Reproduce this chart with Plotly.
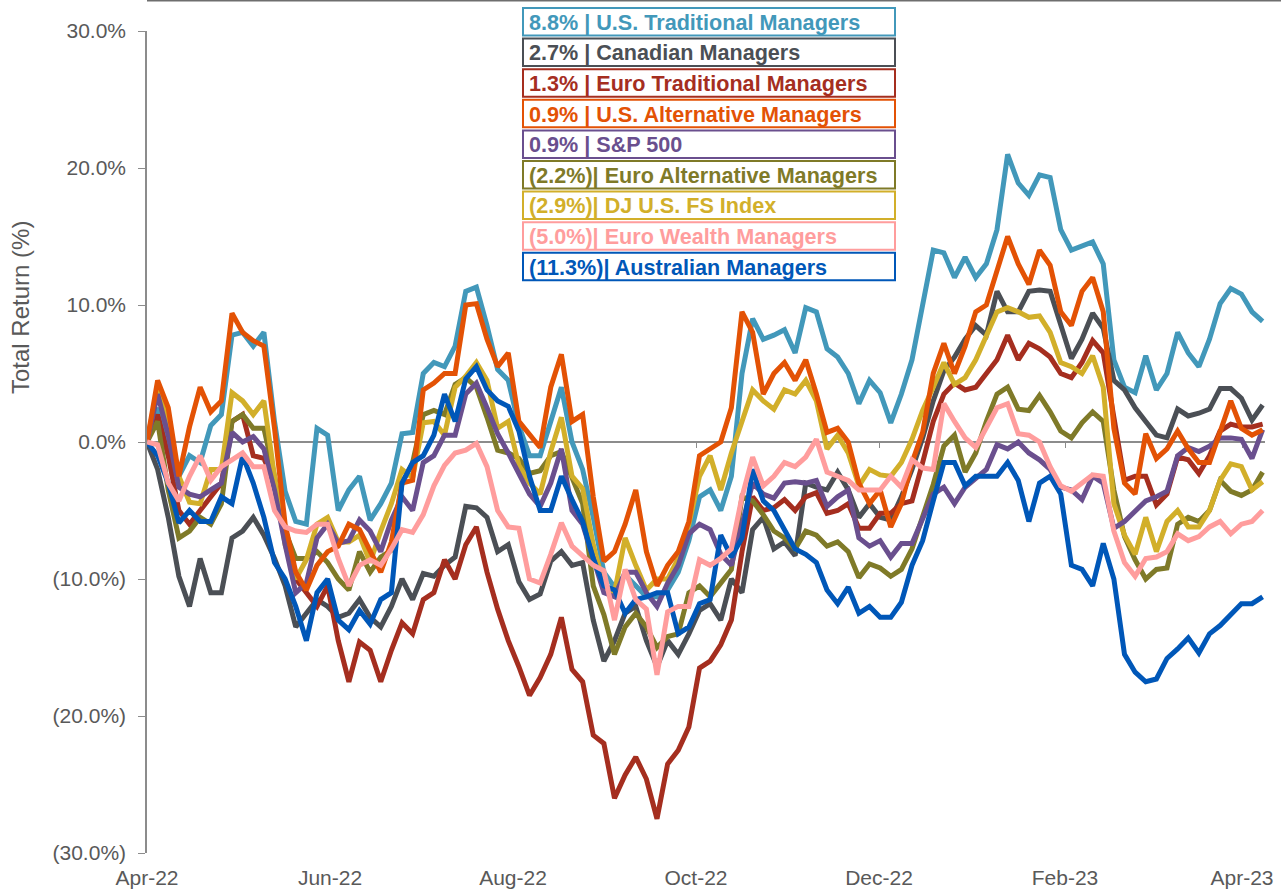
import pandas as pd
import plotly.graph_objects as go

# ---- data (total return %, sampled every ~3.5 days from Apr-2022) ----
dates = pd.date_range("2022-04-01", periods=106, freq="85h")

us_traditional = [0, 2.5, -1, -2.5, -1, -1.5, 1.2, 2, 7.8, 8,
                  7, 8, 1.5, -3.6, -5.8, -6, 1, 0.5, -5, -3.5,
                  -2.5, -5.7, -4.5, -3, 0.6, 0.7, 5, 5.8, 5.5, 7,
                  11, 11.3, 8.5, 5.3, 4.5, 1.2, -1, -1, 1.5, 4,
                  0, -2, -5.5, -9.5, -10.6, -9.7, -10.5, -11.3, -11.3, -10.8,
                  -9.5, -7.2, -4, -3.5, -5, -2.5, 5, 9, 7.5, 7.8,
                  8.2, 6.5, 9.8, 9.5, 6.8, 6.2, 5, 2.8, 4.5, 3.6,
                  1.4, 3.5, 6, 10, 14, 13.8, 12, 13.5, 12, 13,
                  15.5, 21, 18.9, 18, 19.5, 19.3, 15.5, 14, 14.3, 14.6,
                  13, 6, 4, 3.6, 6.3, 3.8, 5, 8, 6.5, 5.5,
                  7.5, 10.1, 11.2, 10.8, 9.5, 8.8]

canadian = [0, -2, -5.5, -9.8, -12, -8.5, -11, -11, -7, -6.5,
            -5.5, -6.8, -8.5, -10.5, -13.5, -12.5, -11.5, -12, -12.8, -12.5,
            -11.5, -12.8, -13.5, -12, -10, -11.5, -9.6, -9.8, -9, -8.4,
            -4.7, -4.8, -5.5, -8, -7.5, -10.2, -11.5, -11.1, -8.7, -8,
            -9, -8.8, -13, -16, -14.5, -12.5, -12, -14.5, -16.4, -14.5,
            -15.5, -14, -12.3, -11.8, -13, -10, -11, -6.4, -5.5, -7.8,
            -7.3, -8.3, -3, -3.3, -3.5, -2.2, -3.5, -5.5, -4.5, -5.5,
            -5.7, -4, -2, 0.3, 3, 5.2, 6.2, 7.5, 8.5, 7.8,
            11, 9.5, 9.5, 11, 11.1, 11, 8.5, 6.1, 7.5, 9.4,
            8.3, 4.5, 3.8, 2.5, 1.5, 0.5, 0.3, 2.4, 1.9, 2.1,
            2.4, 3.9, 3.9, 3.2, 1.6, 2.7]

euro_traditional = [0, 2, -1, -5, -6, -5, -4, -3, 1.5, 2,
                    -1, -1.2, -3, -7, -10, -11, -12, -10.5, -14.5, -17.5,
                    -14.6, -15.2, -17.5, -15.2, -13.2, -14, -11.5, -11, -8.6, -10,
                    -7.5, -6.2, -9.5, -12.2, -14.5, -16.4, -18.5, -17.2, -15.5, -12.8,
                    -16.6, -17.5, -21.4, -22, -26, -24.3, -23, -24.6, -27.5, -23.5,
                    -22.5, -20.8, -16.5, -16, -14.8, -13, -8, -4, -5, -4.8,
                    -4.2, -5, -4, -3.7, -5.2, -5, -4.5, -6.3, -6.3, -5.2,
                    -5.2, -4.5, -4.3, -1.5, 1.5, 3.5, 4.3, 3.8, 4, 5,
                    6, 7.8, 6, 7.2, 6.8, 6.2, 5, 4.7, 5.8, 7.4,
                    6.5, 1.8, -2.8, -2.5, -2.5, -4.6, -3.8, -1.1, -1.3, -2.3,
                    -1, 0.8, 1.3, 1.1, 1.1, 1.3]

us_alternative = [0, 4.5, 2.5, -2.5, 1.1, 4, 2.2, 3, 9.4, 8,
                  7.4, 7, 1, -6, -9.5, -10.8, -9, -8, -7.6, -6,
                  -6.4, -8, -9.5, -7.3, -3, -2.8, 3.8, 4.3, 5, 5,
                  10, 10.1, 7.5, 5.5, 6.5, 1.5, 0.5, -0.4, 4, 6.4,
                  1.5, 2, -4, -8.7, -8, -6, -3.5, -8, -10.5, -9,
                  -8, -5.8, -1, -0.5, 0, 2.5, 9.5, 8, 3.5, 5,
                  5.8, 4.5, 6, 3.5, 0.7, 1, 0, -3, -4.5, -3.5,
                  -6.2, -4.5, -1.5, 0.7, 5, 7.2, 5, 7, 9.5, 10,
                  12.5, 15, 13, 11.5, 14, 12.9, 9.5, 8.5, 11, 12,
                  9.5, 1, -3, -3.8, 0.6, -1.2, -0.5, 0.8, -0.5, -1.5,
                  -1.5, 0.8, 3, 1, 0.5, 0.9]

sp500 = [0, 3.5, 0.5, -3.3, -3.8, -4, -3.5, -3, 0.7, 0,
         0.4, -0.5, -3.5, -7.5, -11, -10.3, -7, -6, -7.4, -7.2,
         -5.7, -6.5, -8, -5.7, -4, -5, -1.5, -1, 0.5, 0.5,
         3.5, 4.3, 2.5, 0.6, -0.8, -2.3, -3.8, -4.7, -3, -0.5,
         -5, -6, -8.5, -11, -11.3, -9.5, -9.5, -11, -12, -10.3,
         -9, -6.7, -6, -6.4, -8.2, -9, -6, -3, -3.8, -4.1,
         -3, -2.9, -3, -2.8, -4.7, -4, -3.5, -7, -7.6, -7.2,
         -8.4, -7.4, -7.4, -5.7, -3.8, -3.3, -4.5, -3.3, -2.7, -2,
         -0.2, -0.5, 0, -0.8, -1.3, -2, -3.3, -3.5, -4.2, -2.5,
         -3, -6.3, -5.8, -5, -4.3, -4, -3.6, -1, -0.4, -0.7,
         -0.3, 0.3, 0.3, 0.2, -1.2, 0.9]

euro_alternative = [0, 1.5, -3.5, -7, -6.5, -5.5, -6, -4.5, 1.5, 2,
                    1, 1, -2.5, -6.5, -8.5, -8.5, -8, -8.8, -10, -10.8,
                    -8, -9.5, -8.4, -7.9, -3, -1.5, 2, 2.3, 2, 4.2,
                    4.7, 4, 1.8, -0.6, -0.8, -1.2, -2.3, -2.1, -1, -0.7,
                    -2.6, -4.5, -10.5, -12.6, -15.5, -13.5, -12.5, -13.5, -15, -14.2,
                    -14, -11, -10.5, -11.3, -10.3, -9.3, -4, -4.3, -5.3, -6.5,
                    -7, -7.8, -6.5, -6.8, -7.6, -7.3, -8, -9.9, -8.9, -9.2,
                    -9.8, -9.3, -7.8, -5.4, -3.1, -0.3, 0.5, -2.2, -0.8, 1.5,
                    3.5, 4, 2.4, 2.3, 3.4, 2.2, 0.8, 0.3, 1.4, 2.2,
                    1.5, -3.5, -6.9, -8.6, -10, -9.3, -9.2, -6, -5.5, -5.8,
                    -5, -2.8, -3.6, -3.9, -3.5, -2.2]

dj_us_fs = [0, 4, 1.5, -2.5, -4.4, -4.5, -2, -2, 3.6, 3,
            2, 3, -2.5, -7.5, -10, -8.6, -6, -5.5, -7.3, -7.3,
            -6.8, -8.8, -6.5, -4.5, -2, -2.6, 1.4, 1.5, 0.5, 4,
            4.8, 5.8, 4.5, 1, 1.5, -1.7, -3, -3.8, -0.7, 1.8,
            -2.5, -3.4, -7.5, -10.5, -11, -7, -9, -10.8, -10, -10,
            -8.5, -6, -2.5, -1, -3.5, -0.8, 1.5, 3.8, 3, 2.4,
            3.8, 3.5, 4.5, 3, -0.5, 0.5, -0.8, -3.2, -2, -2.4,
            -2.5, -1.5, 0.2, 2.3, 4, 5.8, 4.2, 4.7, 6, 7.8,
            9.5, 9.8, 9.5, 9.1, 9.2, 8, 5.8, 5.5, 5, 6.3,
            4, -4.5, -6.8, -8.2, -5.5, -8, -5.8, -5, -6.2, -6.2,
            -5, -2.8, -1.6, -1.8, -3.5, -2.9]

euro_wealth = [0, -0.2, -3, -4.3, -2.5, -1, -2.8, -1.8, -1.3, -0.8,
               -1.8, -1.8, -5, -6.2, -6.5, -6.6, -6, -6, -8.5, -10.5,
               -9, -8.6, -9, -7.8, -6.4, -6.6, -5.3, -3.2, -1.7, -0.8,
               -0.6, -0.1, -1.8, -5, -6.2, -6.3, -10, -10.3, -8.2, -5.9,
               -7.6, -8.3, -9, -9.4, -13, -9.3, -11.5, -12.2, -17, -12.4,
               -12, -12, -8.6, -9, -8.5, -7.8, -4, -1.1, -3.2, -2.5,
               -1.5, -1.8, -1.1, 0.2, -2.2, -2.5, -2.8, -3.5, -3.5, -3.5,
               -2.5, -3.3, -1.3, -1.9, -2, 2.8, 1.5, 0.3, -0.4, 1,
               2.5, 2.8, 0.6, 0.5, 0, -1.8, -3.2, -3.6, -3, -2.4,
               -2.5, -6.5, -8.8, -9.8, -8.5, -8.4, -8, -6.7, -7.2, -6.9,
               -6.2, -5.8, -6.7, -6, -5.8, -5.0]

australian = [0, -1, -3, -5.9, -5, -5.8, -5.8, -4, -4.5, -1,
              -3, -5.5, -8.8, -10, -12, -14.5, -11, -10, -13, -13.7,
              -12.3, -13.3, -11.5, -11, -3, -1.5, -1, 0.5, 3.5, 1.5,
              4.6, 5.5, 3.8, 3, 2.6, 0.8, -2.5, -5, -5, -2.5,
              -4.2, -5.8, -8.5, -10.5, -10.8, -12.5, -11.5, -11.3, -11, -11,
              -14, -13.5, -11.8, -11.5, -6.8, -8.4, -7, -2, -4.3, -5,
              -6.4, -7.8, -8.2, -8.8, -10.8, -11.8, -10.6, -12.5, -12, -12.8,
              -12.8, -11.7, -9, -7.2, -4.3, -1.5, -1.5, -3.2, -2.5, -2.5,
              -2.5, -1.5, -2.8, -5.8, -3, -2.5, -3.8, -9, -9.3, -10.5,
              -7.4, -10, -15.5, -16.8, -17.5, -17.3, -15.8, -15.1, -14.3, -15.4,
              -14, -13.4, -12.6, -11.8, -11.8, -11.3]

# legend order (top to bottom)
legend_order = [
    ("U.S. Traditional Managers", us_traditional, "#4298BA"),
    ("Canadian Managers", canadian, "#4B4F55"),
    ("Euro Traditional Managers", euro_traditional, "#A52E1F"),
    ("U.S. Alternative Managers", us_alternative, "#E35205"),
    ("S&P 500", sp500, "#6A4F8E"),
    ("Euro Alternative Managers", euro_alternative, "#7F7A28"),
    ("DJ U.S. FS Index", dj_us_fs, "#D2AF2A"),
    ("Euro Wealth Managers", euro_wealth, "#FF9D9D"),
    ("Australian Managers", australian, "#0057B8"),
]
# drawing order (bottom first)
draw_order = ["U.S. Traditional Managers", "Canadian Managers", "Euro Traditional Managers",
              "Euro Alternative Managers", "DJ U.S. FS Index", "S&P 500",
              "U.S. Alternative Managers", "Australian Managers", "Euro Wealth Managers"]

tick_dates = ["2022-04-01", "2022-06-01", "2022-08-01", "2022-10-01",
              "2022-12-01", "2023-02-01", "2023-04-01"]
tick_text = ["Apr-22", "Jun-22", "Aug-22", "Oct-22", "Dec-22", "Feb-23", "Apr-23"]
y_ticks = [30, 20, 10, 0, -10, -20, -30]


def pct(v):
    return f"{v:.1f}%" if v >= 0 else f"({abs(v):.1f}%)"


FONT = "Liberation Sans, Arial, sans-serif"
GRAY_TXT = "#595959"
AXIS = "#8C8C8C"

fig = go.Figure()
lookup = {n: (v, c) for n, v, c in legend_order}
for name in draw_order:
    vals, col = lookup[name]
    fig.add_trace(go.Scatter(x=dates, y=vals, mode="lines", name=name,
                             line=dict(color=col, width=5), hoverinfo="skip"))

# helper trace for the zero-line axis (ticks on the 0% line)
fig.add_trace(go.Scatter(x=[dates[0]], y=[0], xaxis="x2", mode="markers",
                         marker=dict(opacity=0), showlegend=False, hoverinfo="skip"))

L, R, T, B = 147, 16, 31, 39
W, H = 1281, 892
pw, ph = W - L - R, H - T - B


def px_x(px):
    return (px - L) / pw


def px_y(py):
    return (H - B - py) / ph


shapes = []
annotations = []
for i, (name, vals, col) in enumerate(legend_order):
    top = 8 + 30.6 * i
    bot = top + 27.5
    shapes.append(dict(type="rect", xref="paper", yref="paper",
                       x0=px_x(523), x1=px_x(895), y0=px_y(bot), y1=px_y(top),
                       line=dict(color=col, width=2), fillcolor="white", layer="above"))
    last = vals[-1]
    sep = " | " if last >= 0 else "| "
    annotations.append(dict(xref="paper", yref="paper", x=px_x(527), y=px_y((top + bot) / 2 + 0.5),
                            xanchor="left", yanchor="middle", showarrow=False,
                            text=f"<b>{pct(last)}{sep}{name}</b>",
                            font=dict(family=FONT, size=21.6, color=col)))

# y axis title
annotations.append(dict(xref="paper", yref="paper", x=px_x(20), y=px_y(308),
                        xanchor="center", yanchor="middle", showarrow=False, textangle=-90,
                        text="Total Return (%)", font=dict(family=FONT, size=24, color=GRAY_TXT)))

# thin rule at the very top of the picture
shapes.append(dict(type="line", xref="paper", yref="paper", x0=px_x(147), x1=px_x(1281),
                   y0=px_y(0.8), y1=px_y(0.8), line=dict(color="#6E6E6E", width=1.6)))

fig.update_layout(
    width=W, height=H, margin=dict(l=L, r=R, t=T, b=B, autoexpand=False),
    plot_bgcolor="white", paper_bgcolor="white", showlegend=False,
    font=dict(family=FONT, color=GRAY_TXT),
    shapes=shapes, annotations=annotations,
    xaxis=dict(type="date", range=["2022-04-01", "2023-04-08 16:00"], automargin=False,
               tickvals=tick_dates, ticktext=tick_text, showgrid=False, zeroline=False,
               showline=False, ticks="outside", ticklen=6, tickcolor="rgba(0,0,0,0)",
               tickfont=dict(family=FONT, size=21, color=GRAY_TXT)),
    xaxis2=dict(type="date", overlaying="x", matches="x", anchor="free", position=0.5,
                automargin=False,
                showline=True, linecolor=AXIS, linewidth=1.5, ticks="outside", ticklen=5,
                tickcolor=AXIS, tickwidth=1.2, tickvals=tick_dates, showticklabels=False,
                showgrid=False, zeroline=False, layer="below traces"),
    yaxis=dict(range=[-30, 30], tickvals=y_ticks, ticktext=[pct(v) for v in y_ticks],
               automargin=False,
               showgrid=False, zeroline=False, showline=True, linecolor=AXIS, linewidth=1.5,
               ticks="outside", ticklen=7, tickcolor=AXIS, tickwidth=1.2,
               ticklabelstandoff=8, layer="below traces",
               tickfont=dict(family=FONT, size=21, color=GRAY_TXT)),
)

fig.write_html("out.html", config={"displayModeBar": False},
               post_script="document.body.style.margin='0';document.body.style.overflow='hidden';")
